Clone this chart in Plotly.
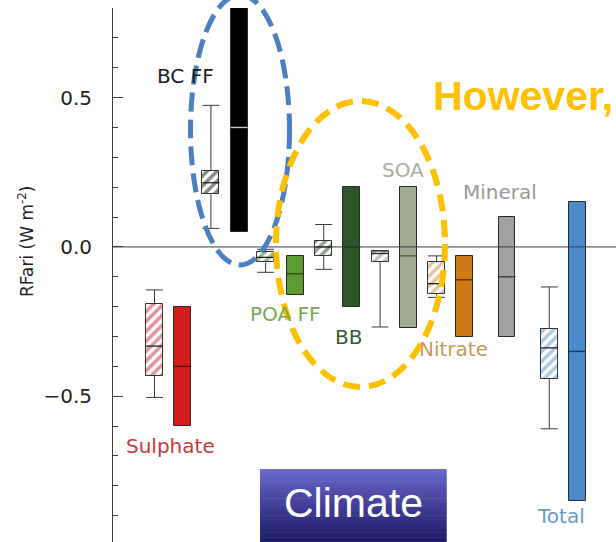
import plotly.graph_objects as go

# ---- figure geometry (pixels) ----
W, H = 616, 542
ML, MT = 113, 8

# ---- data: aerosol RFari (W m-2) ----
species = ["Sulphate", "BC FF", "POA FF", "BB", "SOA", "Nitrate", "Mineral", "Total"]

# assessed best estimate with 5-95 % uncertainty range
best = [-0.40, 0.40, -0.09, 0.00, -0.03, -0.11, -0.10, -0.35]
low = [-0.60, 0.05, -0.16, -0.20, -0.27, -0.30, -0.30, -0.85]
high = [-0.20, 0.80, -0.03, 0.20, 0.20, -0.03, 0.10, 0.15]

# model spread (None: no model ensemble shown)
model_min = [-0.504, 0.062, -0.085, -0.075, -0.268, -0.169, None, -0.609]
model_q1 = [-0.432, 0.176, -0.052, -0.030, -0.050, -0.158, None, -0.443]
model_med = [-0.332, 0.215, -0.035, 0.000, -0.022, -0.123, None, -0.338]
model_q3 = [-0.192, 0.254, -0.018, 0.020, -0.014, -0.052, None, -0.275]
model_max = [-0.144, 0.474, -0.008, 0.075, -0.014, -0.030, None, -0.134]

y_ticks = [-0.5, 0.0, 0.5]
y_tick_text = ["\u22120.5", "0.0", "0.5"]

# ---- layout of the marks along x ----
bar_x = [1.5, 2.5, 3.5, 4.5, 5.5, 6.5, 7.25, 8.5]
box_x = [1.0, 2.0, 2.97, 4.0, 5.0, 6.0, None, 8.0]
BW = 0.30

solid_colors = ["#d41c1c", "#000000", "#5f9b30", "#2a5628", "#a2aa92",
                "#cf7a12", "#a0a0a0", "#4b89cc"]
hatch_colors = ["#c42430", "#111111", "#3d6b25", "#1f3f1d", "#7d8278",
                "#c98a3a", None, "#5a92cc"]
median_colors = ["#5a0a0a", "#c8c8c8", "#2c4a14", "#14290f", "#555a50",
                 "#5e3505", "#3a3a3a", "#1c3a5c"]
label_colors = ["#c23a3c", "#1c1c1c", "#7aa653", "#375c37", "#a9aca3",
                "#c79a55", "#999999", "#6b99c8"]
# label anchor points (x in slot units, y in W m-2 units)
label_x = [1.287, 1.546, 3.328, 4.443, 5.411, 6.305, 7.126, 8.199]
label_y = [-0.668, 0.572, -0.225, -0.302, 0.257, -0.342, 0.184, -0.900]

X_RANGE = [0.264, 9.183]
Y_RANGE = [-0.988, 0.80]


def paper_x(px):
    return (px - ML) / (W - ML)


def paper_y(py):
    return (H - py) / (H - MT)


fig = go.Figure()

# assessed ranges as solid bars
fig.add_trace(go.Bar(
    x=bar_x, y=[h - l for h, l in zip(high, low)], base=low, width=BW,
    marker=dict(color=solid_colors, line=dict(color="#2a2a2a", width=1)),
    hoverinfo="skip", showlegend=False))

# model inter-quartile boxes, hatched
idx = [i for i in range(len(species)) if box_x[i] is not None]
fig.add_trace(go.Bar(
    x=[box_x[i] for i in idx],
    y=[model_q3[i] - model_q1[i] for i in idx],
    base=[model_q1[i] for i in idx], width=BW,
    marker=dict(color="white", line=dict(color="#333333", width=1),
                pattern=dict(shape="/", fgcolor=[hatch_colors[i] for i in idx],
                             size=7, solidity=0.5, fillmode="overlay")),
    hoverinfo="skip", showlegend=False))

# whiskers and caps
wx, wy = [], []
for i in idx:
    x = box_x[i]
    wx += [x, x, None, x, x, None,
           x - BW / 2, x + BW / 2, None, x - BW / 2, x + BW / 2, None]
    wy += [model_q3[i], model_max[i], None, model_q1[i], model_min[i], None,
           model_max[i], model_max[i], None, model_min[i], model_min[i], None]
fig.add_trace(go.Scatter(x=wx, y=wy, mode="lines",
                         line=dict(color="#3a3a3a", width=1),
                         hoverinfo="skip", showlegend=False))

# medians of the model boxes
mx, my = [], []
for i in idx:
    mx += [box_x[i] - BW / 2, box_x[i] + BW / 2, None]
    my += [model_med[i], model_med[i], None]
fig.add_trace(go.Scatter(x=mx, y=my, mode="lines",
                         line=dict(color="#222222", width=1.3),
                         hoverinfo="skip", showlegend=False))

# best estimates across the bars
for i in range(len(species)):
    fig.add_trace(go.Scatter(
        x=[bar_x[i] - BW / 2, bar_x[i] + BW / 2], y=[best[i], best[i]],
        mode="lines", line=dict(color=median_colors[i], width=1.4),
        hoverinfo="skip", showlegend=False))

annotations = []
for i, name in enumerate(species):
    annotations.append(dict(
        x=label_x[i], y=label_y[i], xref="x", yref="y", text=name,
        showarrow=False, xanchor="center", yanchor="middle",
        font=dict(family="DejaVu Sans", size=20, color=label_colors[i])))

# axis title
annotations.append(dict(
    x=paper_x(26), y=paper_y(242), xref="paper", yref="paper",
    text="RFari (W m<sup>-2</sup>)", textangle=-90, showarrow=False,
    xanchor="center", yanchor="middle",
    font=dict(family="DejaVu Sans", size=17, color="#222222")))

shapes = []
# zero line across the panel
shapes.append(dict(type="line", xref="paper", yref="y", x0=0, x1=1, y0=0, y1=0,
                   line=dict(color="#3c3c3c", width=1)))

# highlight ellipses
shapes.append(dict(type="circle", xref="paper", yref="paper",
                   x0=paper_x(190.5), x1=paper_x(289.5),
                   y0=paper_y(265), y1=paper_y(-5),
                   line=dict(color="#4a7fc1", width=5, dash="19px,8px")))
shapes.append(dict(type="circle", xref="paper", yref="paper",
                   x0=paper_x(276), x1=paper_x(445),
                   y0=paper_y(387), y1=paper_y(101),
                   line=dict(color="#ffc000", width=6, dash="17px,9px")))

# "Climate" button with a vertical gradient
top_rgb = (110, 108, 210)
bot_rgb = (29, 28, 102)
n = 30
y_top, y_bot = 469.0, 542.0
for k in range(n):
    t = (k + 0.5) / n
    f = t ** 0.85
    c = tuple(int(round(a + (b - a) * f)) for a, b in zip(top_rgb, bot_rgb))
    ya = y_top + (y_bot - y_top) * k / n
    yb = y_top + (y_bot - y_top) * (k + 1) / n + 0.6
    shapes.append(dict(type="rect", xref="paper", yref="paper",
                       x0=paper_x(260), x1=paper_x(446.7),
                       y0=paper_y(min(yb, y_bot)), y1=paper_y(ya),
                       fillcolor="rgb(%d,%d,%d)" % c, line=dict(width=0)))

annotations.append(dict(
    x=paper_x(353.3), y=paper_y(503), xref="paper", yref="paper",
    text="Climate", showarrow=False, xanchor="center", yanchor="middle",
    font=dict(family="Liberation Sans, Arial", size=41, color="white")))

annotations.append(dict(
    x=paper_x(431), y=paper_y(96), xref="paper", yref="paper",
    text="<b>However,</b>", showarrow=False, xanchor="left", yanchor="middle",
    font=dict(family="Liberation Sans, Arial", size=41, color="#ffc000")))

fig.update_layout(
    width=W, height=H,
    margin=dict(l=ML, r=0, t=MT, b=0, pad=0),
    paper_bgcolor="white", plot_bgcolor="white",
    barmode="overlay", bargap=0,
    showlegend=False,
    xaxis=dict(range=X_RANGE, visible=False, showgrid=False, zeroline=False),
    yaxis=dict(range=Y_RANGE, showgrid=False, zeroline=False,
               showline=True, linecolor="#3c3c3c", linewidth=1,
               ticks="inside", ticklen=10, tickwidth=1, tickcolor="#3c3c3c",
               tickvals=y_ticks, ticktext=y_tick_text,
               ticklabelstandoff=16,
               tickfont=dict(family="DejaVu Sans", size=20, color="#222222"),
               minor=dict(ticks="inside", ticklen=5, tickwidth=1,
                          tickcolor="#3c3c3c", dtick=0.1, tick0=0)),
    shapes=shapes,
    annotations=annotations,
)

fig.write_html("out.html", config=dict(displayModeBar=False))
